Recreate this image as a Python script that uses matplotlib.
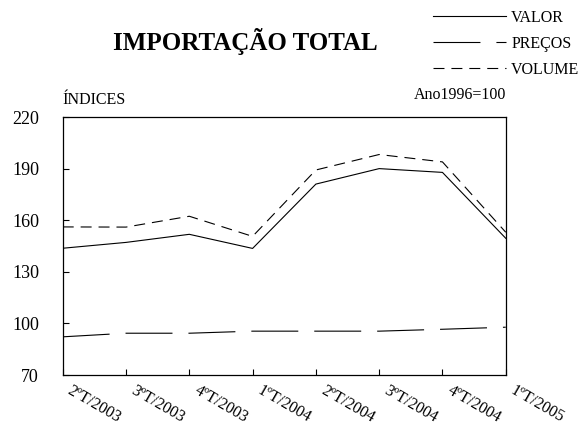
import matplotlib
matplotlib.use('Agg')
import matplotlib.pyplot as plt
import matplotlib.transforms as mtransforms

quarters = ['2ºT/2003', '3ºT/2003', '4ºT/2003', '1ºT/2004',
            '2ºT/2004', '3ºT/2004', '4ºT/2004', '1ºT/2005']
valor = [143.7, 147.1, 151.8, 143.6, 181.0, 190.0, 187.8, 149.5]
precos = [92.2, 94.3, 94.3, 95.5, 95.5, 95.5, 96.6, 97.8]
volume = [156.1, 156.0, 162.3, 150.6, 189.2, 198.2, 193.9, 153.0]
yticks = [70, 100, 130, 160, 190, 220]

plt.rcParams['font.family'] = ['Liberation Serif', 'DejaVu Serif']
plt.rcParams['lines.scale_dashes'] = False

fig = plt.figure(figsize=(5.84, 4.34), dpi=100)
ax = fig.add_axes([0.1074, 0.1359, 0.7586, 0.5945])

x = list(range(len(quarters)))
ax.plot(x, valor, color='black', lw=0.8, label='VALOR')
ax.plot(x, precos, color='black', lw=0.8, dashes=(33.8, 11.5), label='PREÇOS')
ax.plot(x, volume, color='black', lw=0.8, dashes=(7.9, 5.0), label='VOLUME')

ax.set_xlim(0, len(quarters) - 1)
ax.set_ylim(70, 220)
ax.set_yticks(yticks)
ax.set_xticks(x)
ax.set_xticklabels([])
# slanted quarter labels, starting just right of each tick
offset = mtransforms.ScaledTranslation(10 / 100, -8 / 100, fig.dpi_scale_trans)
for xi, q in zip(x, quarters):
    ax.text(xi, 0, q, transform=ax.get_xaxis_transform() + offset,
            rotation=-30, ha='left', va='top', rotation_mode='anchor',
            fontsize=11.5)
ax.tick_params(axis='y', direction='in', length=4.5, width=0.8, labelsize=13, pad=17)
ax.tick_params(axis='x', direction='in', length=4, width=0.8)
for sp in ax.spines.values():
    sp.set_linewidth(0.9)

ax.text(0, 1.05, 'ÍNDICES', transform=ax.transAxes, fontsize=11.5,
        ha='left', va='baseline')
ax.text(1, 1.07, 'Ano1996=100', transform=ax.transAxes, fontsize=11.5,
        ha='right', va='baseline')

fig.text(0.42, 0.905, 'IMPORTAÇÃO TOTAL', fontsize=18, fontweight='bold',
         ha='center', va='center')

ax.legend(loc='upper left', bbox_to_anchor=(433 / 584, 1 - 10 / 434),
          bbox_transform=fig.transFigure, frameon=False, fontsize=11.5,
          handlelength=4.6, handletextpad=0.3, labelspacing=0.62,
          borderpad=0, borderaxespad=0)

fig.savefig('out.png', dpi=100)
